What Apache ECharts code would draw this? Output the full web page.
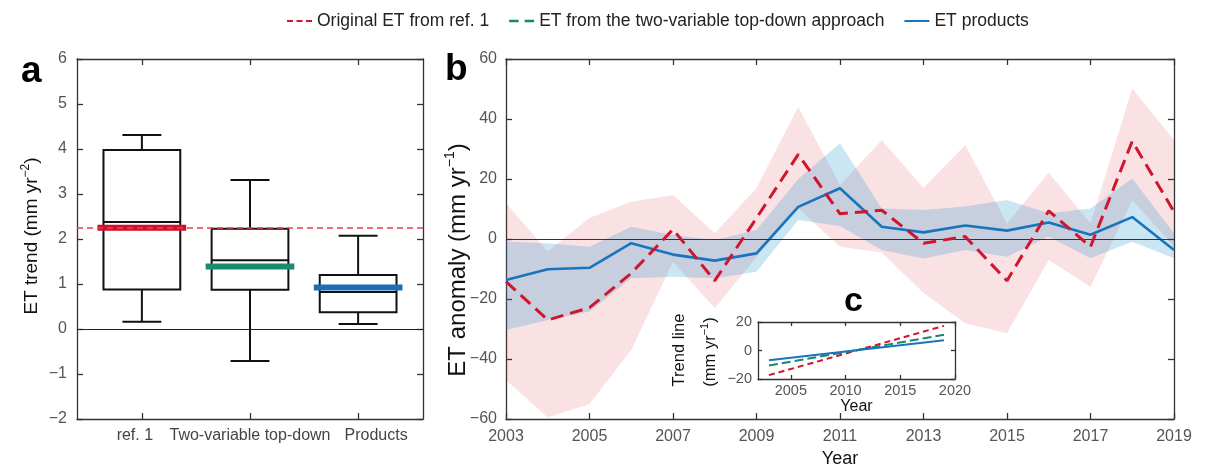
<!DOCTYPE html>
<html>
<head>
<meta charset="utf-8">
<title>ET trends and anomalies</title>
<script src="https://cdn.jsdelivr.net/npm/echarts@6/dist/echarts.min.js"></script>
<style>
  html, body { margin: 0; padding: 0; background: #fff; }
  #chart { width: 1207px; height: 467px; }
</style>
</head>
<body>
<div id="chart"></div>
<script>
// ---- Panel a: ET trend by method (mm yr^-2) ----
const boxGroups = ['ref. 1', 'Two-variable top-down', 'Products'];
const boxPositions = [1, 2, 3];
const whiskerLow = [0.16, -0.71, 0.11];
const quartile1 = [0.88, 0.87, 0.37];
const medianTrend = [2.38, 1.53, 0.82];
const quartile3 = [3.98, 2.23, 1.20];
const whiskerHigh = [4.31, 3.31, 2.07];
const groupTrend = [2.25, 1.39, 0.92];

// ---- Panel b: ET anomaly time series (mm yr^-1) ----
const years = [2003, 2004, 2005, 2006, 2007, 2008, 2009, 2010, 2011, 2012, 2013, 2014, 2015, 2016, 2017, 2018, 2019];
const ref1Anomaly = [-14.2, -27.0, -22.9, -11.4, 3.2, -13.9, 7.0, 28.2, 8.4, 9.6, -1.4, 0.8, -13.9, 9.4, -2.6, 32.6, 9.1];
const ref1Upper = [12.0, -4.2, 7.0, 12.4, 14.7, 1.9, 17.0, 44.0, 18.0, 33.0, 17.0, 31.3, 5.2, 22.1, 5.2, 50.2, 33.0];
const ref1Lower = [-47.0, -59.5, -55.0, -37.0, -7.6, -23.1, -6.0, 10.2, -2.6, -4.5, -18.0, -28.1, -31.4, -7.0, -16.0, 13.0, -2.6];
const productsAnomaly = [-13.7, -10.1, -9.6, -1.4, -5.2, -7.2, -4.8, 10.7, 16.9, 4.1, 2.2, 4.5, 2.8, 5.5, 1.4, 7.3, -3.7];
const productsUpper = [-0.9, -1.4, -2.6, 4.1, 1.3, -0.3, 3.0, 20.0, 31.9, 10.2, 9.7, 10.8, 13.0, 8.6, 10.2, 20.2, 1.9];
const productsLower = [-30.3, -27.0, -24.2, -13.1, -12.6, -13.1, -10.9, 6.3, 4.3, -3.7, -6.5, -3.7, -5.9, 0.8, -6.4, -0.9, -6.4];
const yearTicks = [2003, 2005, 2007, 2009, 2011, 2013, 2015, 2017, 2019];

// ---- Panel c: linear trend lines (mm yr^-1) ----
const trendYears = [2003, 2019];
const ref1TrendLine = [-17.3, 17.3];
const twoVarTrendLine = [-10.5, 11.0];
const productsTrendLine = [-6.8, 7.2];
const insetYearTicks = [2005, 2010, 2015, 2020];

const NAME_REF1 = 'Original ET from ref. 1';
const NAME_TWOVAR = 'ET from the two-variable top-down approach';
const NAME_PRODUCTS = 'ET products';

const FONT = '"Liberation Sans", Arial, Helvetica, sans-serif';
const RED = '#d0152d';
const GREEN = '#17896b';
const BLUE = '#1874bd';
const groupColors = ['#d0102b', '#1a8a72', '#1a6fb8'];
const INK = { color: '#333', width: 1.3 };

const minus = v => String(v).replace('-', '\u2212');
const plainYear = v => String(v);
const pairs = (xs, ys) => xs.map((x, i) => [x, ys[i]]);

function axis(o) {
  return {
    type: 'value',
    gridIndex: o.grid,
    position: o.position,
    min: o.min,
    max: o.max,
    interval: o.interval,
    z: o.z || 0,
    name: o.name,
    nameLocation: 'middle',
    nameGap: o.nameGap,
    nameTextStyle: o.nameTextStyle,
    axisLine: { show: true, onZero: false, lineStyle: INK },
    axisTick: { show: true, inside: true, length: o.tickLength || 6, lineStyle: INK, customValues: o.ticks },
    axisLabel: o.labels
      ? Object.assign({ show: true, customValues: o.ticks, color: '#555', fontFamily: FONT }, o.labels)
      : { show: false },
    splitLine: { show: false }
  };
}

// Box, whiskers, median and group trend bar, all placed through the axis scales
function renderBox(params, api) {
  const i = params.dataIndex;
  const x = api.value(0);
  const boxHalf = api.size([0.71, 0])[0] / 2;
  const capHalf = api.size([0.36, 0])[0] / 2;
  const barHalf = api.size([0.82, 0])[0] / 2;
  const pLow = api.coord([x, api.value(1)]);
  const pQ1 = api.coord([x, api.value(2)]);
  const pMed = api.coord([x, api.value(3)]);
  const pQ3 = api.coord([x, api.value(4)]);
  const pHigh = api.coord([x, api.value(5)]);
  const pMean = api.coord([x, api.value(6)]);
  const cx = pQ1[0];
  const ink = { stroke: '#111', lineWidth: 2 };
  return {
    type: 'group',
    children: [
      { type: 'line', shape: { x1: cx, y1: pQ3[1], x2: cx, y2: pHigh[1] }, style: ink },
      { type: 'line', shape: { x1: cx - capHalf, y1: pHigh[1], x2: cx + capHalf, y2: pHigh[1] }, style: ink },
      { type: 'line', shape: { x1: cx, y1: pQ1[1], x2: cx, y2: pLow[1] }, style: ink },
      { type: 'line', shape: { x1: cx - capHalf, y1: pLow[1], x2: cx + capHalf, y2: pLow[1] }, style: ink },
      { type: 'rect', shape: { x: cx - boxHalf, y: pQ3[1], width: 2 * boxHalf, height: pQ1[1] - pQ3[1] },
        style: { stroke: '#111', lineWidth: 2, fill: 'none' } },
      { type: 'line', shape: { x1: cx - boxHalf, y1: pMed[1], x2: cx + boxHalf, y2: pMed[1] }, style: ink },
      { type: 'line', shape: { x1: cx - barHalf, y1: pMean[1], x2: cx + barHalf, y2: pMean[1] },
        style: { stroke: groupColors[i], lineWidth: 6 } }
    ]
  };
}

// Shaded range between a lower and an upper series, drawn as one polygon
function bandRenderer(upper, lower, color) {
  return function (params, api) {
    if (params.dataIndex !== 0) return null;
    const top = years.map((y, k) => api.coord([y, upper[k]]));
    const bottom = years.map((y, k) => api.coord([y, lower[k]])).reverse();
    return { type: 'polygon', shape: { points: top.concat(bottom) }, style: { fill: color } };
  };
}

const chart = echarts.init(document.getElementById('chart'), null, { renderer: 'canvas' });

const option = {
  animation: false,
  backgroundColor: '#fff',
  textStyle: { fontFamily: FONT },
  legend: {
    left: 282,
    top: 7,
    itemWidth: 25,
    itemHeight: 2.4,
    itemGap: 20,
    selectedMode: false,
    textStyle: { fontFamily: FONT, fontSize: 17.5, color: '#222' },
    data: [
      { name: NAME_REF1, icon: 'path://M0,0H6V2H0Z M9.5,0H15.5V2H9.5Z M19,0H25V2H19Z' },
      { name: NAME_TWOVAR, icon: 'path://M0,0H8V2H0Z M13,0H21V2H13Z' },
      { name: NAME_PRODUCTS, icon: 'path://M0,0H25V2H0Z' }
    ]
  },
  grid: [
    { left: 77, top: 59, width: 346, height: 360, outerBoundsMode: 'none' },
    { left: 506, top: 59, width: 668, height: 360, outerBoundsMode: 'none' },
    { left: 758, top: 322, width: 197, height: 57, show: true, backgroundColor: '#fff', borderWidth: 0, z: 10, outerBoundsMode: 'none' }
  ],
  xAxis: [
    axis({ grid: 0, position: 'bottom', min: 0.4, max: 3.6, ticks: boxPositions,
      labels: {
        margin: 9, fontSize: 16, color: '#444',
        formatter: v => {
          const i = boxPositions.indexOf(v);
          return ['{l|', '{m|', '{r|'][i] + boxGroups[i] + '}';
        },
        rich: {
          l: { fontSize: 16, color: '#444', fontFamily: FONT, padding: [0, 14, 0, 0] },
          m: { fontSize: 16, color: '#444', fontFamily: FONT },
          r: { fontSize: 16, color: '#444', fontFamily: FONT, padding: [0, 0, 0, 36] }
        }
      } }),
    axis({ grid: 0, position: 'top', min: 0.4, max: 3.6, ticks: boxPositions }),
    axis({ grid: 1, position: 'bottom', min: 2003, max: 2019, ticks: yearTicks,
      labels: { margin: 10, fontSize: 16, formatter: plainYear },
      name: 'Year', nameGap: 31, nameTextStyle: { fontSize: 18, color: '#111', fontFamily: FONT } }),
    axis({ grid: 1, position: 'top', min: 2003, max: 2019, ticks: yearTicks }),
    axis({ grid: 2, position: 'bottom', min: 2002, max: 2020, ticks: insetYearTicks, z: 11, tickLength: 4,
      labels: { margin: 4, fontSize: 14.5, formatter: plainYear },
      name: 'Year', nameGap: 20, nameTextStyle: { fontSize: 16, color: '#111', fontFamily: FONT } }),
    axis({ grid: 2, position: 'top', min: 2002, max: 2020, ticks: insetYearTicks, z: 11, tickLength: 4 })
  ],
  yAxis: [
    axis({ grid: 0, position: 'left', min: -2, max: 6, interval: 1,
      labels: { margin: 10, fontSize: 16, formatter: minus } }),
    axis({ grid: 0, position: 'right', min: -2, max: 6, interval: 1 }),
    axis({ grid: 1, position: 'left', min: -60, max: 60, interval: 20,
      labels: { margin: 9, fontSize: 16, formatter: minus } }),
    axis({ grid: 1, position: 'right', min: -60, max: 60, interval: 20 }),
    axis({ grid: 2, position: 'left', min: -20, max: 20, interval: 20, z: 11, tickLength: 4,
      labels: { margin: 6, fontSize: 14.5, formatter: minus } }),
    axis({ grid: 2, position: 'right', min: -20, max: 20, interval: 20, z: 11, tickLength: 4 })
  ],
  series: [
    // Panel a
    {
      type: 'custom',
      xAxisIndex: 0,
      yAxisIndex: 0,
      silent: true,
      renderItem: renderBox,
      encode: { x: 0, y: [1, 5] },
      data: boxPositions.map((p, i) => [p, whiskerLow[i], quartile1[i], medianTrend[i], quartile3[i], whiskerHigh[i], groupTrend[i]]),
      markLine: {
        silent: true,
        symbol: ['none', 'none'],
        label: { show: false },
        data: [
          { yAxis: 0, lineStyle: { color: '#222', width: 1, type: 'solid' } },
          { yAxis: groupTrend[0], lineStyle: { color: '#ee3e52', width: 1.5, type: [6, 4] } }
        ]
      }
    },
    // Panel b: ranges
    {
      type: 'custom',
      xAxisIndex: 2,
      yAxisIndex: 2,
      silent: true,
      clip: true,
      renderItem: bandRenderer(ref1Upper, ref1Lower, 'rgba(220, 20, 50, 0.13)'),
      encode: { x: 0, y: [1, 2] },
      data: years.map((y, i) => [y, ref1Lower[i], ref1Upper[i]])
    },
    {
      type: 'custom',
      xAxisIndex: 2,
      yAxisIndex: 2,
      silent: true,
      clip: true,
      renderItem: bandRenderer(productsUpper, productsLower, 'rgba(20, 140, 200, 0.22)'),
      encode: { x: 0, y: [1, 2] },
      data: years.map((y, i) => [y, productsLower[i], productsUpper[i]])
    },
    // Panel b: anomalies
    {
      name: NAME_PRODUCTS,
      type: 'line',
      xAxisIndex: 2,
      yAxisIndex: 2,
      silent: true,
      symbol: 'none',
      color: BLUE,
      lineStyle: { color: BLUE, width: 2.6 },
      z: 4,
      data: pairs(years, productsAnomaly),
      markLine: {
        silent: true,
        symbol: ['none', 'none'],
        label: { show: false },
        data: [{ yAxis: 0, lineStyle: { color: '#333', width: 1, type: 'solid' } }]
      }
    },
    {
      name: NAME_REF1,
      type: 'line',
      xAxisIndex: 2,
      yAxisIndex: 2,
      silent: true,
      symbol: 'none',
      color: RED,
      lineStyle: { color: RED, width: 3, type: [13, 7] },
      z: 5,
      data: pairs(years, ref1Anomaly)
    },
    // Panel c: trend lines
    {
      name: NAME_REF1,
      type: 'line',
      xAxisIndex: 4,
      yAxisIndex: 4,
      silent: true,
      symbol: 'none',
      color: RED,
      lineStyle: { color: RED, width: 2, type: [6, 4] },
      z: 12,
      data: pairs(trendYears, ref1TrendLine)
    },
    {
      name: NAME_TWOVAR,
      type: 'line',
      xAxisIndex: 4,
      yAxisIndex: 4,
      silent: true,
      symbol: 'none',
      color: GREEN,
      lineStyle: { color: GREEN, width: 2, type: [9, 4] },
      z: 12,
      data: pairs(trendYears, twoVarTrendLine)
    },
    {
      name: NAME_PRODUCTS,
      type: 'line',
      xAxisIndex: 4,
      yAxisIndex: 4,
      silent: true,
      symbol: 'none',
      color: BLUE,
      lineStyle: { color: BLUE, width: 2 },
      z: 12,
      data: pairs(trendYears, productsTrendLine)
    }
  ],
  graphic: [
    { type: 'text', x: 21, y: 72, z: 20, silent: true,
      style: { text: 'a', fontSize: 37, fontWeight: 'bold', fontFamily: FONT, fill: '#000', verticalAlign: 'middle' } },
    { type: 'text', x: 445, y: 70, z: 20, silent: true,
      style: { text: 'b', fontSize: 37, fontWeight: 'bold', fontFamily: FONT, fill: '#000', verticalAlign: 'middle' } },
    { type: 'text', x: 844, y: 302, z: 20, silent: true,
      style: { text: 'c', fontSize: 34, fontWeight: 'bold', fontFamily: FONT, fill: '#000', verticalAlign: 'middle' } },
    { type: 'text', x: 32, y: 236, rotation: Math.PI / 2, z: 20, silent: true,
      style: {
        text: '{t|ET trend (mm yr}{s|\u22122}{t|)}', align: 'center', verticalAlign: 'middle',
        rich: {
          t: { fontSize: 19, fontFamily: FONT, fill: '#111' },
          s: { fontSize: 12, fontFamily: FONT, fill: '#111', padding: [0, 0, 13, 0] }
        }
      } },
    { type: 'text', x: 458, y: 260, rotation: Math.PI / 2, z: 20, silent: true,
      style: {
        text: '{t|ET anomaly (mm yr}{s|\u22121}{t|)}', align: 'center', verticalAlign: 'middle',
        rich: {
          t: { fontSize: 24, fontFamily: FONT, fill: '#111' },
          s: { fontSize: 14, fontFamily: FONT, fill: '#111', padding: [0, 0, 16, 0] }
        }
      } },
    { type: 'text', x: 679, y: 350, rotation: Math.PI / 2, z: 20, silent: true,
      style: { text: 'Trend line', fontSize: 16.5, fontFamily: FONT, fill: '#111', align: 'center', verticalAlign: 'middle' } },
    { type: 'text', x: 710, y: 352, rotation: Math.PI / 2, z: 20, silent: true,
      style: {
        text: '{t|(mm yr}{s|\u22121}{t|)}', align: 'center', verticalAlign: 'middle',
        rich: {
          t: { fontSize: 16.5, fontFamily: FONT, fill: '#111' },
          s: { fontSize: 11, fontFamily: FONT, fill: '#111', padding: [0, 0, 11, 0] }
        }
      } }
  ]
};

chart.setOption(option);
</script>
</body>
</html>
